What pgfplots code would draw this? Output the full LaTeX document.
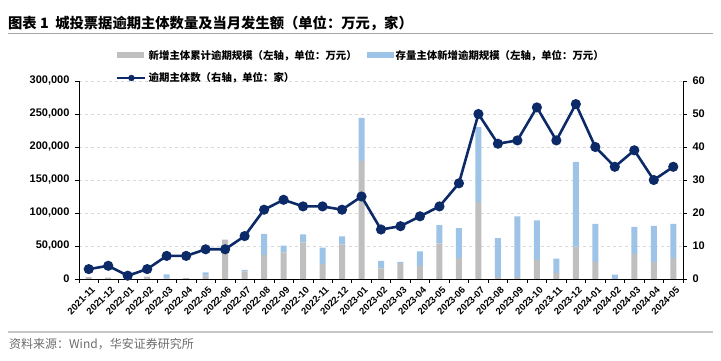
\documentclass[border=0pt]{standalone}
\usepackage{pgfplots}
\pgfplotsset{compat=1.18}
\usepackage{pgfplotstable}
\usepackage{fontspec}
\setmainfont{Liberation Sans}
\newfontfamily\cjk{Noto Sans CJK SC}
\definecolor{bargray}{HTML}{BFBFBF}
\definecolor{barblue}{HTML}{9DC3E6}
\definecolor{navy}{HTML}{0C2A68}
\definecolor{gridc}{HTML}{D9D9D9}
\pgfplotsset{
  barleg/.style={legend image code/.code={\fill[##1] (0pt,-3pt) rectangle (27pt,3pt);}},
  lineleg/.style={legend image code/.code={\draw[navy, line width=2.5pt] (0pt,0pt) -- (28pt,0pt); \fill[navy] (14pt,0pt) circle (3pt);}},
}
\pgfplotstableread{
x g b n
0 3000 0 3
1 2000 0 4
2 0 0 1
3 3500 0 3
4 1000 6000 7
5 1500 0 7
6 5000 5000 9
7 59500 0 9
8 11500 2500 13
9 36000 32500 21
10 40500 10000 24
11 55500 12000 22
12 22500 25000 22
13 52000 12500 21
14 179000 65000 25
15 16000 11500 15
16 24000 2000 16
17 19500 22500 19
18 54000 27500 22
19 32000 45000 29
20 116500 113500 50
21 3000 59000 41
22 3000 92000 42
23 29000 60000 52
24 9000 22000 42
25 49000 128500 53
26 26000 57500 40
27 0 6500 34
28 38000 41000 39
29 25500 55000 30
30 31500 52000 34
}\data
\begin{document}
\begin{tikzpicture}
\useasboundingbox (0,0) rectangle (721pt,361pt);
\begin{axis}[
  at={(79pt,82pt)}, anchor=south west,
  scale only axis, width=604pt, height=198pt,
  xmin=-0.5, xmax=30.5, ymin=0, ymax=300000,
  ybar stacked, bar width=6pt,
  axis x line*=bottom, axis y line*=left,
  axis line style={black, line width=0.8pt},
  xtick={0,...,30},
  xticklabels={2021-11,2021-12,2022-01,2022-02,2022-03,2022-04,2022-05,2022-06,2022-07,2022-08,2022-09,2022-10,2022-11,2022-12,2023-01,2023-02,2023-03,2023-04,2023-05,2023-06,2023-07,2023-08,2023-09,2023-10,2023-11,2023-12,2024-01,2024-02,2024-03,2024-04,2024-05},
  major x tick style={draw=none},
  minor xtick={-0.5,0.5,...,30.5},
  minor x tick style={black, line width=0.6pt},
  tick align=outside,
  major tick length=4pt, minor tick length=4pt,
  ytick={0,50000,...,300000},
  y tick style={black, line width=0.6pt},
  ymajorgrids, grid style={gridc, dashed, line width=0.7pt},
  scaled y ticks=false,
  /pgf/number format/fixed, /pgf/number format/1000 sep={,},
  /pgf/number format/assume math mode=true,
  yticklabel style={font=\bfseries\fontsize{11}{12}\selectfont, xshift=-2pt},
  xticklabel style={rotate=45, anchor=north east, font=\bfseries\fontsize{9.5}{11}\selectfont, inner sep=0.5pt, yshift=-3pt},
  legend columns=2,
  legend style={at={(0.0613,1.167)}, anchor=north west, draw=none, fill=none, inner sep=0pt,
    font=\cjk\bfseries\fontsize{10.4}{12}\selectfont, row sep=8pt,
    /tikz/every even column/.append style={column sep=8pt}},
  legend cell align=left,
]
\addplot[fill=bargray, draw=none, barleg] table[x=x,y=g]{\data};
\addlegendentry{新增主体累计逾期规模（左轴，单位：万元）}
\addplot[fill=barblue, draw=none, barleg] table[x=x,y=b]{\data};
\addlegendentry{存量主体新增逾期规模（左轴，单位：万元）}
\addlegendimage{lineleg}
\addlegendentry{逾期主体数（右轴，单位：家）}
\end{axis}
\begin{axis}[
  at={(79pt,82pt)}, anchor=south west,
  scale only axis, width=604pt, height=198pt,
  xmin=-0.5, xmax=30.5, ymin=0, ymax=60,
  axis y line*=right, axis x line=none,
  axis line style={black, line width=0.8pt},
  ytick={0,10,...,60},
  tick align=outside, major tick length=4pt,
  y tick style={black, line width=0.6pt},
  /pgf/number format/assume math mode=true,
  yticklabel style={font=\bfseries\fontsize{11}{12}\selectfont, xshift=2pt},
]
\addplot[navy, line width=2.6pt, mark=*, mark size=3.7pt] table[x=x,y=n]{\data};
\end{axis}
\node[anchor=west, inner sep=0pt, font=\cjk\bfseries\fontsize{14.3}{16}\selectfont] at (8pt,338pt) {图表 1\ \ 城投票据逾期主体数量及当月发生额（单位：万元，家）};
\draw[gray!70, line width=1.2pt] (8pt,327.5pt) -- (713pt,327.5pt);
\draw[gray!45, line width=1.6pt] (8pt,29pt) -- (713pt,29pt);
\node[anchor=west, inner sep=0pt, text=gray!85!black, font=\cjk\fontsize{12}{14}\selectfont] at (9pt,17pt) {资料来源：Wind，华安证券研究所};
\end{tikzpicture}
\end{document}
